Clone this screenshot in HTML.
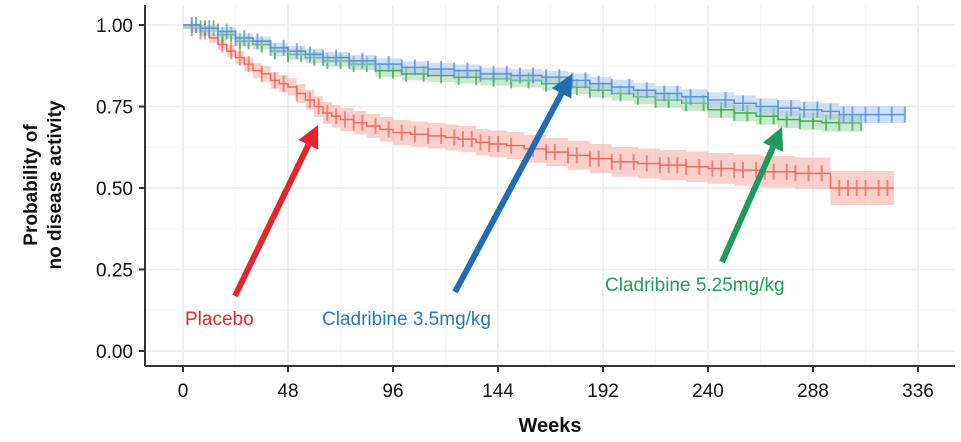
<!DOCTYPE html>
<html><head><meta charset="utf-8"><style>
body{margin:0;background:#fff;}
svg{display:block;font-family:"Liberation Sans",Arial,sans-serif;}
</style></head><body>
<svg id="chart" width="961" height="442">
<g id="grid"></g>
<g id="series"></g>
<g id="axes"></g>
<g id="annot"></g>
</svg>
<script>
const xTicks=[0,48,96,144,192,240,288,336];
const yTicks=[0,0.25,0.5,0.75,1.0];
const yTickLabels=["0.00","0.25","0.50","0.75","1.00"];
const placeboT=[0,4,8,12,16,20,24,28,32,36,40,44,48,52,56,60,64,68,72,78,84,90,96,104,112,120,126,134,140,148,156,166,176,186,196,208,218,230,240,252,264,280,296,325];
const placeboS=[1.0,0.99,0.98,0.96,0.94,0.92,0.90,0.88,0.86,0.85,0.83,0.82,0.81,0.79,0.77,0.75,0.73,0.72,0.71,0.70,0.69,0.68,0.67,0.665,0.66,0.655,0.65,0.64,0.635,0.63,0.62,0.61,0.60,0.59,0.58,0.575,0.57,0.565,0.56,0.555,0.55,0.545,0.50,0.50];
const clad35T=[0,8,16,24,32,40,48,56,64,76,88,100,112,124,136,150,164,176,186,196,206,216,228,240,252,262,272,282,292,300,330];
const clad35S=[1.0,0.99,0.98,0.96,0.95,0.93,0.92,0.91,0.90,0.89,0.88,0.87,0.865,0.86,0.85,0.845,0.84,0.83,0.82,0.81,0.80,0.79,0.78,0.77,0.76,0.75,0.745,0.74,0.735,0.725,0.725];
const clad525T=[0,8,16,24,32,40,48,56,64,76,88,100,112,124,136,150,164,176,186,196,206,216,228,240,252,262,272,282,292,310];
const clad525S=[1.0,0.99,0.97,0.95,0.94,0.92,0.91,0.90,0.89,0.88,0.86,0.85,0.845,0.84,0.835,0.83,0.82,0.81,0.80,0.79,0.78,0.77,0.76,0.74,0.73,0.72,0.71,0.705,0.70,0.70];
const placeboCens=[4,8,10,18,22,26,30,36,42,46,52,58,62,66,70,74,78,82,88,94,100,106,112,118,124,128,132,136,140,144,150,160,166,170,176,180,186,190,196,200,206,212,218,222,226,230,236,242,246,252,256,262,266,270,276,280,286,292,300,304,308,312,318,322];
const clad35Cens=[4,8,12,16,20,24,28,34,40,46,52,58,64,70,76,82,88,94,100,106,112,118,124,130,136,142,148,154,160,166,172,178,184,190,196,204,212,220,226,232,240,248,256,264,272,278,284,290,296,302,306,312,318,324,330];
const clad525Cens=[6,10,14,18,22,26,30,36,42,48,54,60,66,72,78,84,90,96,102,110,118,126,134,142,150,158,166,172,180,186,192,200,208,216,222,230,238,246,252,258,264,270,276,282,288,294,300,306,310];
const X=v=>183+v*(735/336), Y=v=>351-v*326;
const NS="http://www.w3.org/2000/svg";
function mk(tag,attrs,parent,name,txt){const e=document.createElementNS(NS,tag);for(const k in attrs)e.setAttribute(k,attrs[k]);


if(txt!==undefined)e.textContent=txt;parent.appendChild(e);return e;}
const grid=document.getElementById('grid'),ser=document.getElementById('series'),axes=document.getElementById('axes'),ann=document.getElementById('annot');
xTicks.forEach(t=>mk('line',{x1:X(t),x2:X(t),y1:5,y2:366,stroke:'#ececec','stroke-width':1.5},grid,'x-grid-line'));
for(let i=0;i<xTicks.length-1;i++){const m=(xTicks[i]+xTicks[i+1])/2;mk('line',{x1:X(m),x2:X(m),y1:5,y2:366,stroke:'#f5f5f5','stroke-width':1},grid,'x-minor-grid');}
yTicks.forEach(t=>mk('line',{x1:145,x2:955,y1:Y(t),y2:Y(t),stroke:'#ececec','stroke-width':1.5},grid,'y-grid-line'));
for(let i=0;i<yTicks.length-1;i++){const m=(yTicks[i]+yTicks[i+1])/2;mk('line',{x1:145,x2:955,y1:Y(m),y2:Y(m),stroke:'#f5f5f5','stroke-width':1},grid,'y-minor-grid');}
function stepAt(T,S,t){let s=S[0];for(let i=0;i<T.length;i++){if(T[i]<=t)s=S[i];}return s;}
function drawSeries(T,S,cens,col,band,name,ciScale){
 let up='',lo=[];let d='';
 for(let i=0;i<T.length;i++){const ci=(0.012+ciScale*(1-S[i]));
  const x0=X(T[i]),x1=X(i<T.length-1?T[i+1]:T[i]);
  up+=(i?'L':'M')+x0+','+Y(Math.min(1,S[i]+ci))+'L'+x1+','+Y(Math.min(1,S[i]+ci));
  lo.unshift(x1+','+Y(S[i]-ci),x0+','+Y(S[i]-ci));
  d+=(i?'L'+x0+','+Y(S[i-1])+'L':'M')+x0+','+Y(S[i]);
 }
 d+='L'+X(T[T.length-1])+','+Y(S[S.length-1]);
 mk('path',{d:up+'L'+lo.join('L')+'Z',fill:band,opacity:0.55},ser,name+'-ci-band');
 mk('path',{d:d,fill:'none',stroke:col,'stroke-width':1.5},ser,name+'-curve');
 cens.forEach(c=>{const s=stepAt(T,S,c);mk('line',{x1:X(c),x2:X(c),y1:Y(s)-8,y2:Y(s)+8,stroke:col,'stroke-width':2,opacity:0.75},ser,name+'-censor-mark');});
}
drawSeries(placeboT,placeboS,placeboCens,'#ee6b5f','#f5a9a2','placebo',0.08);
drawSeries(clad525T,clad525S,clad525Cens,'#3aab4a','#9fd6a6','cladribine-525',0.05);
drawSeries(clad35T,clad35S,clad35Cens,'#5b92d6','#a9c6ec','cladribine-35',0.05);
mk('line',{x1:145,x2:145,y1:5,y2:366,stroke:'#333','stroke-width':2},axes,'y-axis-line');
mk('line',{x1:145,x2:955,y1:366,y2:366,stroke:'#333','stroke-width':2},axes,'x-axis-line');
xTicks.forEach(t=>{mk('line',{x1:X(t),x2:X(t),y1:366,y2:372,stroke:'#333','stroke-width':2},axes,'x-tick');
 mk('text',{x:X(t),y:397,'text-anchor':'middle','font-size':19,fill:'#111'},axes,'x-tick-label',String(t));});
yTicks.forEach((t,i)=>{mk('line',{x1:139,x2:145,y1:Y(t),y2:Y(t),stroke:'#333','stroke-width':2},axes,'y-tick');
 mk('text',{x:133,y:Y(t)+7,'text-anchor':'end','font-size':19,fill:'#111'},axes,'y-tick-label',yTickLabels[i]);});
mk('text',{x:550,y:432,'text-anchor':'middle','font-size':20,'font-weight':'bold',fill:'#111'},axes,'x-axis-title','Weeks');
const yt=mk('text',{x:0,y:0,'text-anchor':'middle','font-size':19,'font-weight':'bold',fill:'#111',transform:'translate(37,185) rotate(-90)'},axes,'y-axis-title','');
mk('tspan',{x:0,dy:0},yt,'y-axis-title-line1','Probability of');
mk('tspan',{x:0,dy:24},yt,'y-axis-title-line2','no disease activity');
function arrow(x1,y1,x2,y2,col,name){const a=Math.atan2(y2-y1,x2-x1),L=22,W=11;
 const bx=x2-L*Math.cos(a),by=y2-L*Math.sin(a);
 mk('line',{x1:x1,y1:y1,x2:bx,y2:by,stroke:col,'stroke-width':6},ann,name+'-shaft');
 mk('polygon',{points:`${x2},${y2} ${bx+W*Math.sin(a)},${by-W*Math.cos(a)} ${bx-W*Math.sin(a)},${by+W*Math.cos(a)}`,fill:col},ann,name+'-head');}
arrow(235,296,318,125,'#e4262c','placebo-arrow');
arrow(455,292,572,74,'#1f6db3','cladribine-35-arrow');
arrow(722,262,782,127,'#1e9a5a','cladribine-525-arrow');
mk('text',{x:185,y:325,'font-size':19,fill:'#e4262c'},ann,'placebo-label','Placebo');
mk('text',{x:322,y:325,'font-size':19,fill:'#2a77c0'},ann,'cladribine-35-label','Cladribine 3.5mg/kg');
mk('text',{x:605,y:291,'font-size':19,fill:'#22a05a'},ann,'cladribine-525-label','Cladribine 5.25mg/kg');
</script>
</body></html>
